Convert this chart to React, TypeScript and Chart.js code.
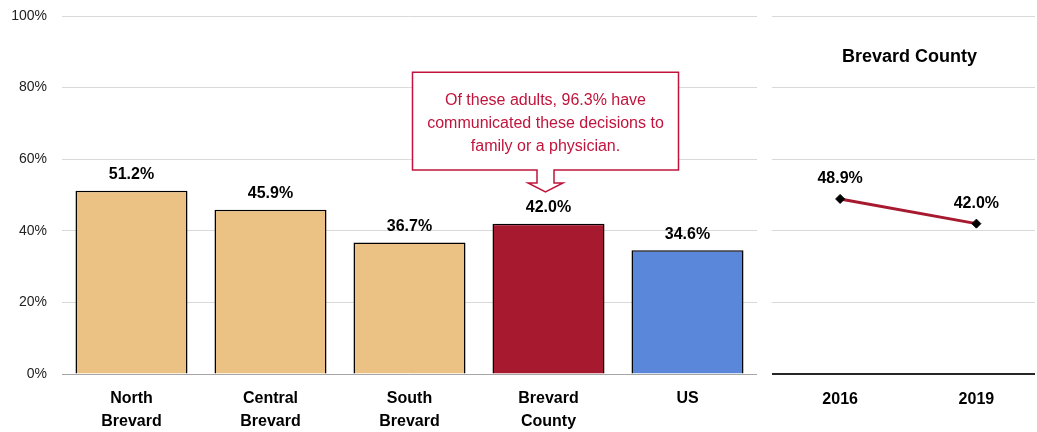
import React, { useEffect, useRef } from "react";
import { Chart, registerables } from "chart.js";
Chart.register(...registerables);

const categories = [["North", "Brevard"], ["Central", "Brevard"], ["South", "Brevard"], ["Brevard", "County"], ["US"]];
const values = [51.2, 45.9, 36.7, 42.0, 34.6];
const barColors = ["#EBC184", "#EBC184", "#EBC184", "#A6192E", "#5B87DA"];
const trendYears = ["2016", "2019"];
const trendValues = [48.9, 42.0];
const trendTitle = "Brevard County";
const calloutLines = ["Of these adults, 96.3% have", "communicated these decisions to", "family or a physician."];
const calloutIndex = 3;

const FONT = "'Liberation Sans', Arial, sans-serif";
const CRIMSON = "#A6192E";
const CALLOUT = "#C0143C";

const zeroPad = (s: any) => {
  s.paddingTop = 0;
  s.paddingBottom = 0;
  s.paddingLeft = 0;
  s.paddingRight = 0;
};

const barLabelPlugin = {
  id: "barLabels",
  afterDatasetsDraw(chart: any) {
    const ctx = chart.ctx;
    const meta = chart.getDatasetMeta(0);
    ctx.save();
    ctx.font = `bold 16px ${FONT}`;
    ctx.fillStyle = "#000";
    ctx.textAlign = "center";
    ctx.textBaseline = "bottom";
    meta.data.forEach((el: any, i: number) => {
      ctx.fillText(values[i].toFixed(1) + "%", el.x, el.y - 8);
    });
    ctx.restore();
  },
};

const calloutPlugin = {
  id: "callout",
  afterDraw(chart: any) {
    const ctx = chart.ctx;
    const el = chart.getDatasetMeta(0).data[calloutIndex];
    const cx = el.x - 3;
    const w = 266;
    const top = chart.scales.y.getPixelForValue(84.3);
    const bottom = chart.scales.y.getPixelForValue(57);
    const left = cx - w / 2;
    const right = cx + w / 2;
    const shaft = 8.5;
    const head = 17.5;
    const shaftEnd = bottom + 13;
    const tip = bottom + 22;
    ctx.save();
    ctx.beginPath();
    ctx.moveTo(left, top);
    ctx.lineTo(right, top);
    ctx.lineTo(right, bottom);
    ctx.lineTo(cx + shaft, bottom);
    ctx.lineTo(cx + shaft, shaftEnd);
    ctx.lineTo(cx + head, shaftEnd);
    ctx.lineTo(cx, tip);
    ctx.lineTo(cx - head, shaftEnd);
    ctx.lineTo(cx - shaft, shaftEnd);
    ctx.lineTo(cx - shaft, bottom);
    ctx.lineTo(left, bottom);
    ctx.closePath();
    ctx.fillStyle = "#fff";
    ctx.fill();
    ctx.lineWidth = 1.5;
    ctx.strokeStyle = CALLOUT;
    ctx.stroke();
    ctx.fillStyle = CALLOUT;
    ctx.font = `16px ${FONT}`;
    ctx.textAlign = "center";
    ctx.textBaseline = "middle";
    const mid = (top + bottom) / 2 + 3;
    calloutLines.forEach((line, i) => {
      ctx.fillText(line, cx, mid + (i - 1) * 23);
    });
    ctx.restore();
  },
};

const trendPlugin = {
  id: "trendLabels",
  afterDraw(chart: any) {
    const ctx = chart.ctx;
    const area = chart.chartArea;
    const meta = chart.getDatasetMeta(0);
    ctx.save();
    ctx.fillStyle = "#000";
    ctx.textAlign = "center";
    ctx.textBaseline = "middle";
    ctx.font = `bold 18px ${FONT}`;
    ctx.fillText(trendTitle, (area.left + area.right) / 2 + 6, 57);
    ctx.font = `bold 16px ${FONT}`;
    ctx.textBaseline = "bottom";
    meta.data.forEach((el: any, i: number) => {
      ctx.fillText(trendValues[i].toFixed(1) + "%", el.x, el.y - 12);
    });
    ctx.restore();
  },
};

export default function App() {
  const barRef = useRef<HTMLCanvasElement>(null);
  const lineRef = useRef<HTMLCanvasElement>(null);

  useEffect(() => {
    const barChart = new Chart(barRef.current as HTMLCanvasElement, {
      type: "bar",
      data: {
        labels: categories as any,
        datasets: [
          {
            data: values,
            backgroundColor: barColors,
            borderColor: "#000",
            borderWidth: 1.5,
            barPercentage: 0.806,
            categoryPercentage: 1,
          },
        ],
      },
      options: {
        animation: false,
        responsive: false,
        maintainAspectRatio: false,
        layout: { padding: { top: 16, right: 8, left: 0, bottom: 0 } },
        plugins: { legend: { display: false }, tooltip: { enabled: false } },
        scales: {
          x: {
            grid: { display: false },
            border: { display: false },
            ticks: {
              font: { family: FONT, size: 16, weight: "bold", lineHeight: 1.45 },
              color: "#000",
              padding: 5,
              maxRotation: 0,
              autoSkip: false,
            },
            afterFit: (s: any) => {
              s.height = 58;
              zeroPad(s);
            },
          },
          y: {
            min: 0,
            max: 100,
            ticks: {
              stepSize: 20,
              callback: (v: any) => v + "%",
              font: { family: FONT, size: 14 },
              color: "#222",
              padding: 15,
            },
            grid: {
              color: (c: any) => (c.tick && c.tick.value === 0 ? "#A6A6A6" : "#D9D9D9"),
              drawTicks: false,
              lineWidth: 1,
            },
            border: { display: false },
            afterFit: (s: any) => {
              s.width = 62;
              zeroPad(s);
            },
          },
        },
      } as any,
      plugins: [barLabelPlugin, calloutPlugin],
    });

    const lineChart = new Chart(lineRef.current as HTMLCanvasElement, {
      type: "line",
      data: {
        datasets: [
          {
            data: trendValues.map((v, i) => ({ x: i, y: v })),
            borderColor: CRIMSON,
            borderWidth: 3,
            pointStyle: "rectRot",
            pointRadius: 4.5,
            pointBackgroundColor: "#000",
            pointBorderColor: "#000",
            pointBorderWidth: 1,
          },
        ],
      },
      options: {
        animation: false,
        responsive: false,
        maintainAspectRatio: false,
        layout: { autoPadding: false, padding: { top: 16, right: 2, left: 7, bottom: 0 } },
        plugins: { legend: { display: false }, tooltip: { enabled: false } },
        scales: {
          x: {
            type: "linear",
            min: -0.5,
            max: 1.43,
            afterBuildTicks: (s: any) => {
              s.ticks = trendYears.map((_, i) => ({ value: i }));
            },
            ticks: {
              callback: (v: any) => trendYears[v] ?? "",
              font: { family: FONT, size: 16, weight: "bold" },
              color: "#000",
              padding: 8,
              maxRotation: 0,
              autoSkip: false,
            },
            grid: { display: false },
            border: { display: false },
            afterFit: (s: any) => {
              s.height = 58;
              zeroPad(s);
            },
          },
          y: {
            min: 0,
            max: 100,
            ticks: { stepSize: 20, display: false },
            grid: {
              color: (c: any) => (c.tick && c.tick.value === 0 ? "#262626" : "#D9D9D9"),
              lineWidth: (c: any) => (c.tick && c.tick.value === 0 ? 2 : 1),
              drawTicks: false,
            },
            border: { display: false },
            afterFit: (s: any) => {
              s.width = 0;
              zeroPad(s);
            },
          },
        },
      } as any,
      plugins: [trendPlugin],
    });

    return () => {
      barChart.destroy();
      lineChart.destroy();
    };
  }, []);

  return (
    <div style={{ position: "absolute", left: 0, top: 0, width: 1037, height: 432, background: "#fff" }}>
      <canvas ref={barRef} width={765} height={432} style={{ position: "absolute", left: 0, top: 0 }} />
      <canvas ref={lineRef} width={272} height={432} style={{ position: "absolute", left: 765, top: 0 }} />
    </div>
  );
}
